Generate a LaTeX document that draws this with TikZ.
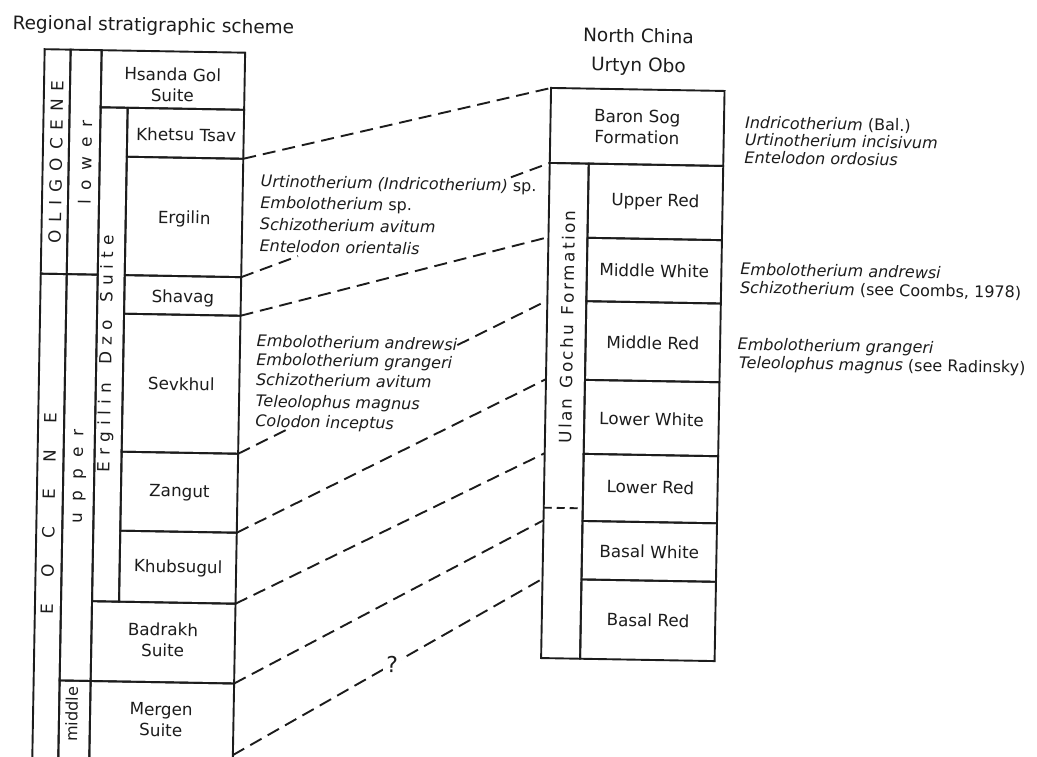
\documentclass[tikz,border=0pt]{standalone}
\usepackage{fontspec}
\setmainfont{DejaVu Sans}
\usetikzlibrary{calc}
\definecolor{ink}{HTML}{1C1C1C}
\newcommand\spreadtext[2]{\def\spreadkern{#1}\spreadloop#2\relax\unkern}
\def\spreadloop#1{\ifx#1\relax\else#1\kern\spreadkern\expandafter\spreadloop\fi}
\newcommand\cellbox[5]{%
  \pgfmathsetmacro\cellW{#4-#2}%
  \pgfmathsetmacro\cellH{#5-#3}%
  \pgfmathsetmacro\cellX{(#2+#4)/2}%
  \pgfmathsetmacro\cellY{(#3+#5)/2}%
  \node[cellstyle, minimum width=\cellW pt, minimum height=\cellH pt] (#1) at (\cellX,\cellY) {};}
\begin{document}
\begin{tikzpicture}[x=1pt,y=-1pt,
  cellstyle/.style={draw=ink, line width=1.9pt, inner sep=0pt, outer sep=0pt, rectangle},
  lbl/.style={text=ink, font=\fontsize{16.8}{21}\selectfont, align=center, inner sep=0pt},
  vlbl/.style={lbl, rotate=90},
  spc/.style={text=ink, font=\fontsize{16}{19}\selectfont\itshape, anchor=base west, inner sep=0pt},
  ttl/.style={text=ink, font=\fontsize{18.5}{22}\selectfont, inner sep=0pt, anchor=base},
  conn/.style={draw=ink, line width=1.9pt, dash pattern=on 13pt off 7pt}]
\useasboundingbox (0,0) rectangle (1037,756);
\clip (0,0) rectangle (1037,756);
\begin{scope}[rotate around={-1:(518,378)}, transform shape]
% ---------- left column ----------
\node[ttl] (title) at (147.3,37.9) {Regional stratigraphic scheme};
\cellbox{oligo}{39}{57.5}{65}{282}
\cellbox{lowerep}{65}{57.5}{96}{282}
\cellbox{eoc}{39}{282}{65}{790}
\cellbox{upperep}{65}{282}{96}{688.4}
\cellbox{middleep}{65}{688.4}{96}{790}
\cellbox{hsanda}{96}{57.5}{239.5}{114.6}
\cellbox{ergdzo}{96}{114.6}{123}{608.6}
\cellbox{khetsu}{123}{114.6}{239.5}{163.6}
\cellbox{ergilin}{123}{163.6}{239.5}{282}
\cellbox{shavag}{123}{282}{239.5}{320.6}
\cellbox{sevkhul}{123}{320.6}{239.5}{458.6}
\cellbox{zangut}{123}{458.6}{239.5}{537.6}
\cellbox{khubsugul}{123}{537.6}{239.5}{608.6}
\cellbox{badrakh}{96}{608.6}{239.5}{688.4}
\cellbox{mergen}{96}{688.4}{239.5}{790}
\coordinate (mergenEnd) at (239.5,760);

\node[vlbl] (tOligo) at (52.3,170) {\spreadtext{8pt}{OLIGOCENE}};
\node[vlbl] (tLower) at (81.5,170) {\spreadtext{9.3pt}{lower}};
\node[vlbl] (tEoc) at (51,522) {\spreadtext{26.5pt}{EOCENE}};
\node[vlbl] (tUpper) at (81.5,484) {\spreadtext{11.2pt}{upper}};
\node[vlbl] (tErgDzo) at (106.5,361) {\spreadtext{6.2pt}{Ergilin~Dzo~Suite}};
\node[vlbl, font=\fontsize{16}{19}\selectfont] (tMiddle) at (77.5,722) {middle};

\node[lbl] (tHsanda) at (167.5,91) {Hsanda Gol\\Suite};
\node[lbl] (tKhetsu) at (182,140.5) {Khetsu Tsav};
\node[lbl] (tErgilin) at (181.5,225) {Ergilin};
\node[lbl] (tShavag) at (181.5,304) {Shavag};
\node[lbl] (tSevkhul) at (181.5,390) {Sevkhul};
\node[lbl] (tZangut) at (181.5,498.5) {Zangut};
\node[lbl] (tKhubsugul) at (181.5,574) {Khubsugul};
\node[lbl] (tBadrakh) at (167.5,646) {Badrakh\\Suite};
\node[lbl] (tMergen) at (167,726) {Mergen\\Suite};

% ---------- right column ----------
\node[ttl] (tNorth) at (632.5,40.5) {North China};
\node[ttl] (tUrtyn) at (633,69.6) {Urtyn Obo};
\cellbox{baron}{546}{87.4}{719.5}{162.4}
\cellbox{ulan}{546}{162.4}{585}{657.6}
\cellbox{upperred}{585}{162.4}{719.5}{236.6}
\cellbox{midwhite}{585}{236.6}{719.5}{300}
\cellbox{midred}{585}{300}{719.5}{378.7}
\cellbox{lowwhite}{585}{378.7}{719.5}{452.7}
\cellbox{lowred}{585}{452.7}{719.5}{519.8}
\cellbox{baswhite}{585}{519.8}{719.5}{578.3}
\cellbox{basred}{585}{578.3}{719.5}{657.6}
\coordinate (ulanDashL) at (546,507.2);
\coordinate (ulanDashR) at (585,507.2);
\draw[draw=ink, line width=1.9pt, dash pattern=on 8pt off 5pt] (ulanDashL) -- (ulanDashR);

\node[lbl] (tBaron) at (632.7,125) {Baron Sog\\Formation};
\node[lbl] (tUpperRed) at (652.3,199.5) {Upper Red};
\node[lbl] (tMidWhite) at (652.3,268.3) {Middle White};
\node[lbl] (tMidRed) at (652.3,340.5) {Middle Red};
\node[lbl] (tLowWhite) at (652.3,417) {Lower White};
\node[lbl] (tLowRed) at (652.3,485) {Lower Red};
\node[lbl] (tBasWhite) at (652.3,549.5) {Basal White};
\node[lbl] (tBasRed) at (652.3,618) {Basal Red};
\node[vlbl] (tUlan) at (566,326) {\spreadtext{2.35pt}{Ulan~Gochu~Formation}};

\coordinate (rBaronTop) at (546,87.4);
\coordinate (rBaronBot) at (546,162.4);
\coordinate (rURbot) at (546,236.6);
\coordinate (rMWbot) at (546,300);
\coordinate (rMRbot) at (546,378.7);
\coordinate (rLWbot) at (546,452.7);
\coordinate (rLRbot) at (546,519.8);
\coordinate (rBWbot) at (546,578.3);

% ---------- species lists ----------
\node[spc] (a1) at (257.2,191.5) {Urtinotherium (Indricotherium) \upshape sp.};
\node[spc] (a2) at (257.2,212.8) {Embolotherium \upshape sp.};
\node[spc] (a3) at (257.2,234.5) {Schizotherium avitum};
\node[spc] (a4) at (257.2,256.2) {Entelodon orientalis};

\node[spc] (b1) at (256,351.3) {Embolotherium andrewsi};
\node[spc] (b2) at (256,369.6) {Embolotherium grangeri};
\node[spc] (b3) at (256,389.6) {Schizotherium avitum};
\node[spc] (b4) at (256,411.3) {Teleolophus magnus};
\node[spc] (b5) at (256,431.3) {Colodon inceptus};

\node[spc] (c1) at (740.5,124.4) {Indricotherium \upshape(Bal.)};
\node[spc] (c2) at (740.5,141.6) {Urtinotherium incisivum};
\node[spc] (c3) at (740.5,159.2) {Entelodon ordosius};
\node[spc] (c4) at (738.3,271.1) {Embolotherium andrewsi};
\node[spc] (c5) at (738.3,289.4) {Schizotherium \upshape(see Coombs, 1978)};
\node[spc] (c6) at (737,346.1) {Embolotherium grangeri};
\node[spc] (c7) at (738.5,364.4) {Teleolophus magnus \upshape(see Radinsky)};

% ---------- correlation lines ----------
\draw[conn] (khetsu.south east) -- (rBaronTop);
\draw[conn] (ergilin.south east) -- ($(ergilin.south east)!0.184!(rBaronBot)$);
\draw[conn] ($(ergilin.south east)!0.874!(rBaronBot)$) -- (rBaronBot);
\draw[conn] (shavag.south east) -- (rURbot);
\draw[conn] (sevkhul.south east) -- ($(sevkhul.south east)!0.168!(rMWbot)$);
\draw[conn] ($(sevkhul.south east)!0.709!(rMWbot)$) -- (rMWbot);
\draw[conn] (zangut.south east) -- (rMRbot);
\draw[conn] (khubsugul.south east) -- (rLWbot);
\draw[conn] (badrakh.south east) -- (rLRbot);
\draw[conn] (mergenEnd) -- (rBWbot);
\node[text=ink, fill=white, inner sep=3pt, font=\fontsize{22}{26}\selectfont] (qmark)
  at ($(mergenEnd)!0.514!(rBWbot)$) {?};
\end{scope}
\end{tikzpicture}
\end{document}
